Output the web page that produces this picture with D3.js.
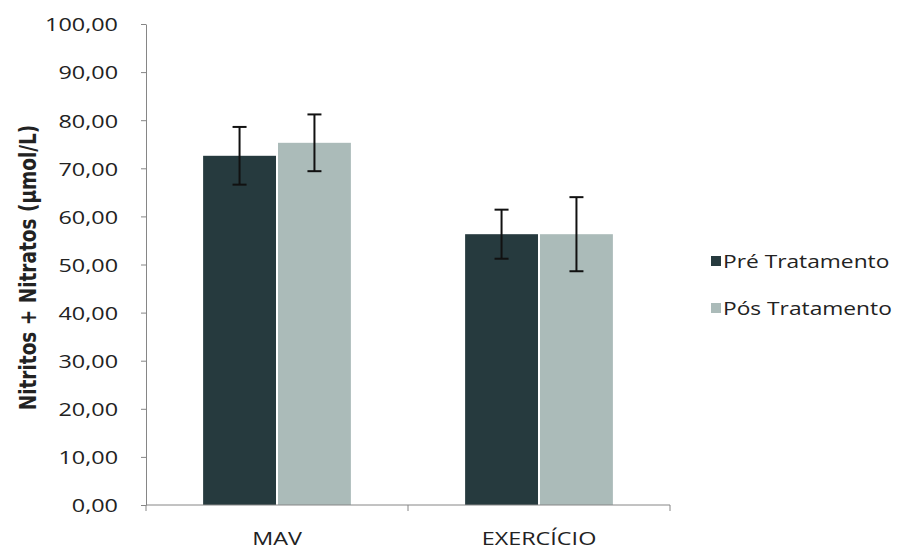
<!DOCTYPE html>
<html>
<head>
<meta charset="utf-8">
<script src="https://cdn.jsdelivr.net/npm/d3@7"></script>
<style>
  body { margin: 0; background: #fff; }
  svg { display: block; }
  text { font-family: "Open Sans", sans-serif; fill: #222; }
</style>
</head>
<body>
<svg id="chart" width="901" height="550"></svg>
<script>
const categories = ["MAV", "EXERCÍCIO"];
const seriesNames = ["Pré Tratamento", "Pós Tratamento"];
const preValues = [72.6, 56.3];
const posValues = [75.3, 56.3];
const preErrors = [6.0, 5.1];
const posErrors = [5.9, 7.7];
const yTicks = [0, 10, 20, 30, 40, 50, 60, 70, 80, 90, 100];
const colors = ["#263a3e", "#abbbb9"];

const W = 901, H = 550;
const margin = { left: 146, right: 231, top: 24, bottom: 45 };
const SX = 1.3; // horizontal text stretch of original image

const svg = d3.select("#chart");
const innerW = W - margin.left - margin.right;
const innerH = H - margin.top - margin.bottom;

const y = d3.scaleLinear().domain([0, 100]).range([margin.top + innerH, margin.top]);
const x0 = d3.scaleBand().domain(categories).range([margin.left, margin.left + innerW]).padding(0);
const bw = x0.bandwidth();
const x1 = d3.scaleBand().domain(seriesNames).range([bw * 0.218, bw * 0.782]).paddingInner(0.027);

const fmt = v => v.toFixed(2).replace(".", ",");

// Y axis
const yAxis = d3.axisLeft(y).tickValues(yTicks).tickSize(5).tickSizeOuter(0).tickFormat(fmt);
const gy = svg.append("g").attr("transform", `translate(${margin.left},0)`).call(yAxis);
gy.select(".domain").attr("stroke", "#868686");
gy.selectAll(".tick line").attr("stroke", "#868686");
gy.selectAll(".tick text")
  .attr("x", null).attr("dy", null)
  .attr("transform", `translate(-28,0) scale(${SX},1)`)
  .attr("dominant-baseline", "central")
  .style("font-family", "'Open Sans', sans-serif")
  .style("font-size", "18px")
  .style("fill", "#222");

// Bars
const data = categories.map((c, i) => ({
  cat: c,
  vals: [
    { s: seriesNames[0], v: preValues[i], e: preErrors[i], c: colors[0] },
    { s: seriesNames[1], v: posValues[i], e: posErrors[i], c: colors[1] }
  ]
}));

const groups = svg.append("g").selectAll("g").data(data).join("g")
  .attr("transform", d => `translate(${x0(d.cat)},0)`);

groups.selectAll("rect").data(d => d.vals).join("rect")
  .attr("x", d => x1(d.s))
  .attr("width", x1.bandwidth())
  .attr("y", d => y(d.v))
  .attr("height", d => y(0) - y(d.v))
  .attr("fill", d => d.c);

// Error bars
const cap = 7;
const eb = groups.selectAll("g.err").data(d => d.vals).join("g").attr("class", "err");
eb.append("line")
  .attr("x1", d => x1(d.s) + x1.bandwidth() / 2)
  .attr("x2", d => x1(d.s) + x1.bandwidth() / 2)
  .attr("y1", d => y(d.v + d.e)).attr("y2", d => y(d.v - d.e))
  .attr("stroke", "#111").attr("stroke-width", 2);
eb.append("line")
  .attr("x1", d => x1(d.s) + x1.bandwidth() / 2 - cap)
  .attr("x2", d => x1(d.s) + x1.bandwidth() / 2 + cap)
  .attr("y1", d => y(d.v + d.e)).attr("y2", d => y(d.v + d.e))
  .attr("stroke", "#111").attr("stroke-width", 2);
eb.append("line")
  .attr("x1", d => x1(d.s) + x1.bandwidth() / 2 - cap)
  .attr("x2", d => x1(d.s) + x1.bandwidth() / 2 + cap)
  .attr("y1", d => y(d.v - d.e)).attr("y2", d => y(d.v - d.e))
  .attr("stroke", "#111").attr("stroke-width", 2);

// X axis
const gx = svg.append("g").attr("transform", `translate(0,${y(0)})`);
gx.append("line").attr("x1", margin.left).attr("x2", margin.left + innerW)
  .attr("stroke", "#868686");
const bounds = categories.map(c => x0(c)).concat([margin.left + innerW]);
gx.selectAll("line.tk").data(bounds).join("line").attr("class", "tk")
  .attr("x1", d => d).attr("x2", d => d).attr("y1", 0).attr("y2", 6)
  .attr("stroke", "#868686");
gx.selectAll("text").data(categories).join("text")
  .attr("transform", d => `translate(${x0(d) + bw / 2},33) scale(${SX},1)`)
  .attr("text-anchor", "middle")
  .attr("dominant-baseline", "central")
  .style("font-size", "18px")
  .text(d => d);

// Y title
svg.append("text")
  .attr("transform", `translate(28,${margin.top + innerH / 2 + 3}) scale(1.2,1) rotate(-90)`)
  .attr("text-anchor", "middle")
  .attr("dominant-baseline", "central")
  .style("font-family", "'DejaVu Sans', sans-serif")
  .style("font-weight", "bold")
  .style("font-size", "18.5px")
  .text("Nitritos + Nitratos (µmol/L)");

// Legend
const lg = svg.append("g").selectAll("g").data(seriesNames).join("g")
  .attr("transform", (d, i) => `translate(711,${261 + i * 47})`);
lg.append("rect").attr("x", 0).attr("y", -5).attr("width", 10).attr("height", 10)
  .attr("fill", (d, i) => colors[i]);
lg.append("text")
  .attr("transform", `translate(12,0) scale(${SX},1)`)
  .attr("dominant-baseline", "central")
  .style("font-size", "17.5px")
  .text(d => d);
</script>
</body>
</html>
